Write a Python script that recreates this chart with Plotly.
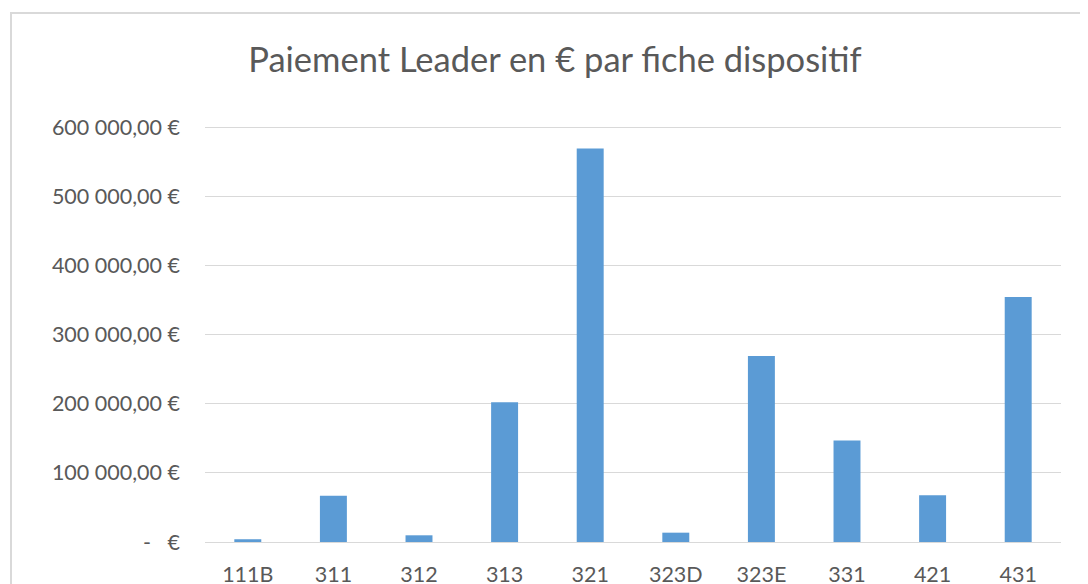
import plotly.graph_objects as go

categories = ["111B", "311", "312", "313", "321", "323D", "323E", "331", "421", "431"]
values = [4000, 67000, 9700, 202400, 569600, 13500, 269300, 147000, 67500, 354600]
tick_vals = [0, 100000, 200000, 300000, 400000, 500000, 600000]
tick_text = ["-   €", "100 000,00 €", "200 000,00 €", "300 000,00 €",
             "400 000,00 €", "500 000,00 €", "600 000,00 €"]
title_text = "Paiement Leader en € par fiche dispositif"

FONT = "Lato, 'Open Sans', sans-serif"
TXT = "#595959"
OFF = 8  # page body offset
W, H = 1088, 584
YMAX = 600000 * 1.006
top_px = 127 - (542 - 127) * 0.006
L, T = 205 - OFF, int(round(top_px)) - OFF
R = (W + OFF) - 1061
B = (H + OFF) - 542
pw, ph = W - L - R, H - T - B

fig = go.Figure(go.Bar(x=categories, y=values, marker=dict(color="#5B9BD5", line=dict(width=0)),
                       width=0.315))

fig.update_layout(
    width=W, height=H,
    margin=dict(l=L, r=R, t=T, b=B),
    paper_bgcolor="white", plot_bgcolor="white",
    showlegend=False,
    title=dict(text=title_text, x=(555 - OFF) / W, xanchor="center", y=1 - (60 - OFF) / H, yanchor="middle",
               font=dict(family=FONT, size=34.5, color=TXT)),
    xaxis=dict(showgrid=False, showline=False, ticks="", automargin=False,
               tickfont=dict(family=FONT, size=21.5, color=TXT), ticklabelstandoff=17),
    yaxis=dict(range=[0, YMAX], tickvals=tick_vals, ticktext=tick_text, automargin=False,
               showgrid=True, gridcolor="#D9D9D9", gridwidth=1, zeroline=True, zerolinecolor="#D9D9D9",
               zerolinewidth=1, showline=False, ticks="",
               tickfont=dict(family=FONT, size=21.5, color=TXT), ticklabelstandoff=24),
)

# chart border (Excel chart area outline)
fig.add_shape(type="rect", xref="paper", yref="paper",
              x0=(11 - OFF - L) / pw, x1=(W + 20 - L) / pw,
              y0=(H - B - (H + 20)) / ph, y1=(H - B - (13 - OFF)) / ph,
              line=dict(color="#D9D9D9", width=2), fillcolor="rgba(0,0,0,0)", layer="below")

fig.write_html("out.html")
